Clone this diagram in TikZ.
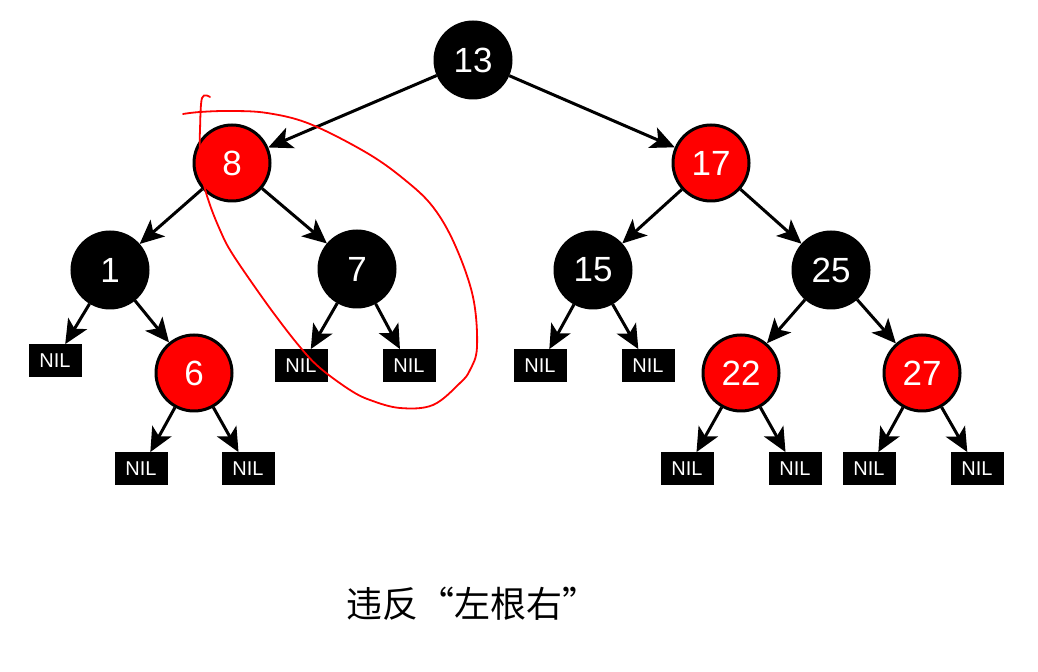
\documentclass[tikz,border=0pt]{standalone}
\usepackage{fontspec}
\setmainfont{Liberation Sans}
\newfontfamily\cjkfont{Noto Sans CJK SC}
\usetikzlibrary{arrows.meta}
\begin{document}
\begin{tikzpicture}[x=0.5pt,y=-0.5pt,
  rbnode/.style={circle,draw=black,line width=1.5pt,minimum size=38pt,inner sep=0pt,
    text=white,font=\fontsize{17.5}{18}\selectfont},
  blk/.style={rbnode,fill=black},
  rd/.style={rbnode,fill=red},
  nil/.style={rectangle,fill=black,text=white,minimum width=26.5pt,minimum height=16.5pt,
    inner sep=0pt,font=\fontsize{10}{10}\selectfont},
  edge/.style={line width=1.5pt,-{Stealth[length=12pt,width=11pt,inset=3pt]}}]
\useasboundingbox (0,0) rectangle (1038,672);
\fill[white] (0,0) rectangle (1038,672);
% tree nodes
\node[blk] (n13) at (473,60) {13};
\node[rd]  (n8)  at (232,163) {8};
\node[rd]  (n17) at (711,163) {17};
\node[blk] (n1)  at (110,270) {1};
\node[blk] (n7)  at (357,269) {7};
\node[blk] (n15) at (593,270) {15};
\node[blk] (n25) at (831,270) {25};
\node[rd]  (n6)  at (194,373) {6};
\node[rd]  (n22) at (741,373) {22};
\node[rd]  (n27) at (922,373) {27};
% NIL leaves
\node[nil] (l1a) at (55,361) {NIL};
\node[nil] (l7a) at (301,366) {NIL};
\node[nil] (l7b) at (409,366) {NIL};
\node[nil] (l6a) at (141,469) {NIL};
\node[nil] (l6b) at (248,469) {NIL};
\node[nil] (l15a) at (540,366) {NIL};
\node[nil] (l15b) at (648,366) {NIL};
\node[nil] (l22a) at (687,469) {NIL};
\node[nil] (l22b) at (795,469) {NIL};
\node[nil] (l27a) at (869,469) {NIL};
\node[nil] (l27b) at (977,469) {NIL};
% edges
\draw[edge] (n13) -- (n8);
\draw[edge] (n13) -- (n17);
\draw[edge] (n8) -- (n1);
\draw[edge] (n8) -- (n7);
\draw[edge] (n17) -- (n15);
\draw[edge] (n17) -- (n25);
\draw[edge] (n1) -- (l1a);
\draw[edge] (n1) -- (n6);
\draw[edge] (n7) -- (l7a);
\draw[edge] (n7) -- (l7b);
\draw[edge] (n6) -- (l6a);
\draw[edge] (n6) -- (l6b);
\draw[edge] (n15) -- (l15a);
\draw[edge] (n15) -- (l15b);
\draw[edge] (n25) -- (n22);
\draw[edge] (n25) -- (n27);
\draw[edge] (n22) -- (l22a);
\draw[edge] (n22) -- (l22b);
\draw[edge] (n27) -- (l27a);
\draw[edge] (n27) -- (l27b);
% hand-drawn red loop
\draw[red,line width=0.9pt,line join=round,line cap=round] plot[smooth,tension=0.6] coordinates {
  (183,114) (200,112) (230,111) (267,113) (310,124) (367,153) (405,180) (433,207) (455,245)
  (473,297) (477,347) (470,370) (460,383) (433,405) (400,408) (370,400) (350,390) (320,368)
  (300,347) (275,315) (250,280) (230,250) (220,230) (210,205) (203,180) (200,150) (200,130)
  (202,98) (210,97)};
% caption
\node[font=\cjkfont\fontsize{18}{18}\selectfont,anchor=center] (cap) at (472,604) {违反“左根右”};
\end{tikzpicture}
\end{document}
